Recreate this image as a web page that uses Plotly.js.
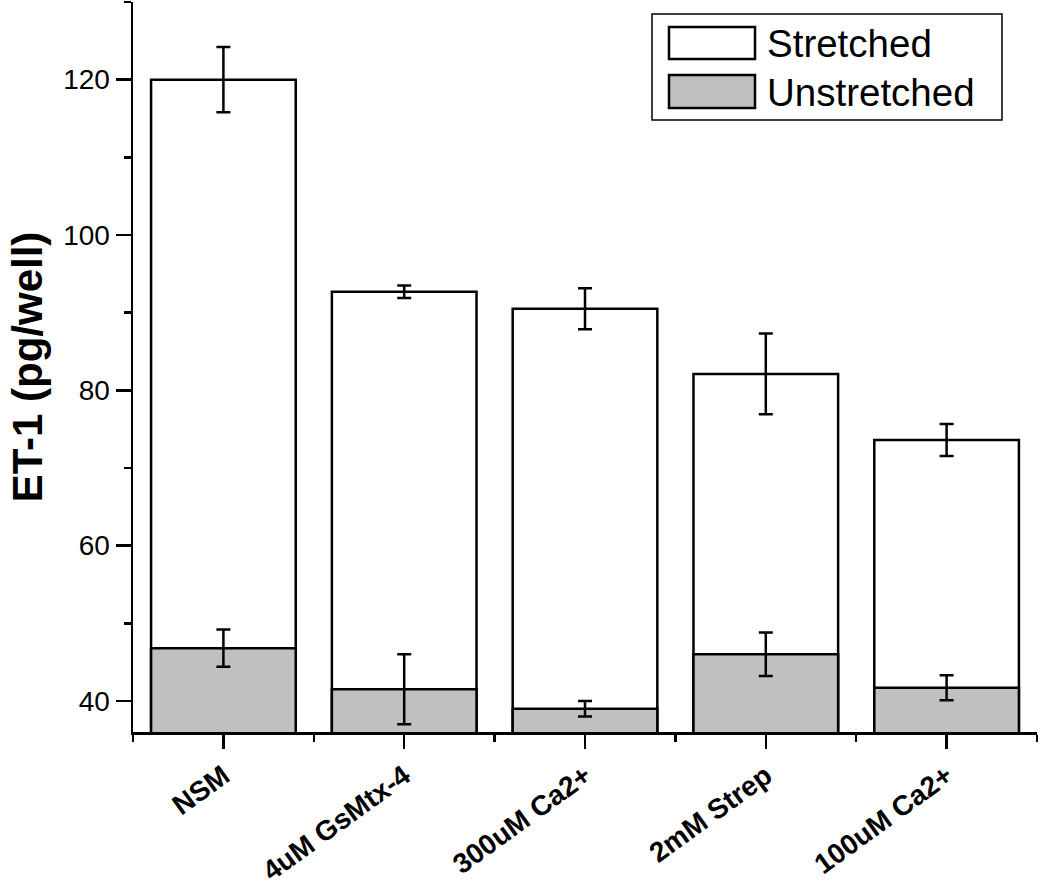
<!DOCTYPE html>
<html>
<head>
<meta charset="utf-8">
<script src="https://cdn.plot.ly/plotly-3.0.1.min.js"></script>
<style>html,body{margin:0;padding:0;background:#fff;}#chart{width:1050px;height:887px;}</style>
</head>
<body>
<div id="chart"></div>
<script>
const categories = ["NSM", "4uM GsMtx-4", "300uM Ca2+", "2mM Strep", "100uM Ca2+"];
const stretched = [120.0, 92.7, 90.5, 82.1, 73.6];
const stretchedErr = [4.2, 0.8, 2.65, 5.2, 2.05];
const unstretched = [46.8, 41.5, 39.0, 46.0, 41.7];
const unstretchedErr = [2.4, 4.5, 1.0, 2.8, 1.6];
const legendNames = ["Stretched", "Unstretched"];

const xIdx = categories.map((_, i) => i);
const FONT = "Arial, 'Liberation Sans', sans-serif";

const W = 1050, H = 887;
const M = {l: 133, r: 13, t: 2, b: 155};
const pw = W - M.l - M.r, ph = H - M.t - M.b;
const px = x => (x - M.l) / pw;
const py = y => 1 - (y - M.t) / ph;

const traces = [
  {
    type: "bar", name: legendNames[0], x: xIdx, y: stretched, width: 0.8,
    marker: {color: "#ffffff", line: {color: "#000", width: 2.5}},
    error_y: {type: "data", array: stretchedErr, visible: true, color: "#000", thickness: 2.5, width: 7},
    showlegend: false
  },
  {
    type: "bar", name: legendNames[1], x: xIdx, y: unstretched, width: 0.8,
    marker: {color: "#c0c0c0", line: {color: "#000", width: 2.5}},
    error_y: {type: "data", array: unstretchedErr, visible: true, color: "#000", thickness: 2.5, width: 7},
    showlegend: false
  }
];

const shapes = [
  {type: "rect", xref: "paper", yref: "paper", x0: px(652), x1: px(1002), y0: py(120), y1: py(14),
   line: {color: "#000", width: 1.5}, fillcolor: "#fff", layer: "above"},
  {type: "rect", xref: "paper", yref: "paper", x0: px(669), x1: px(755), y0: py(59), y1: py(27),
   line: {color: "#000", width: 2.5}, fillcolor: "#ffffff", layer: "above"},
  {type: "rect", xref: "paper", yref: "paper", x0: px(669), x1: px(755), y0: py(108), y1: py(75),
   line: {color: "#000", width: 2.5}, fillcolor: "#c0c0c0", layer: "above"}
];

const annotations = [
  {xref: "paper", yref: "paper", x: px(765), y: py(43), xanchor: "left", yanchor: "middle",
   text: legendNames[0], showarrow: false, font: {family: FONT, size: 38.5, color: "#000"}},
  {xref: "paper", yref: "paper", x: px(765), y: py(92), xanchor: "left", yanchor: "middle",
   text: legendNames[1], showarrow: false, font: {family: FONT, size: 38.5, color: "#000"}}
];

const layout = {
  width: W, height: H,
  margin: M,
  paper_bgcolor: "#fff", plot_bgcolor: "#fff",
  barmode: "overlay",
  showlegend: false,
  font: {family: FONT, color: "#000"},
  xaxis: {
    range: [-0.5, 4.5],
    tickmode: "array", tickvals: xIdx, ticktext: categories,
    tickangle: -36,
    tickfont: {family: FONT, size: 28, color: "#000", weight: "bold"},
    ticks: "outside", ticklen: 14, tickwidth: 2.5, tickcolor: "#000",
    ticklabelstandoff: 0,
    minor: {ticks: "outside", tickmode: "linear", tick0: 0.5, dtick: 1, ticklen: 7, tickwidth: 2.5, tickcolor: "#000"},
    showline: true, linecolor: "#000", linewidth: 2.5,
    showgrid: false, zeroline: false, fixedrange: true
  },
  yaxis: {
    range: [36, 130],
    tickmode: "linear", tick0: 40, dtick: 20,
    tickfont: {family: FONT, size: 28, color: "#000"},
    ticks: "outside", ticklen: 15, tickwidth: 2.5, tickcolor: "#000",
    minor: {ticks: "outside", tickmode: "linear", tick0: 30, dtick: 20, ticklen: 7, tickwidth: 2.5, tickcolor: "#000"},
    showline: true, linecolor: "#000", linewidth: 2.5,
    showgrid: false, zeroline: false, fixedrange: true,
    title: {text: "ET-1 (pg/well)", font: {family: FONT, size: 42, color: "#000", weight: "bold"}, standoff: 8}
  },
  shapes: shapes,
  annotations: annotations
};

Plotly.newPlot("chart", traces, layout, {displayModeBar: false, staticPlot: true});
</script>
</body>
</html>
